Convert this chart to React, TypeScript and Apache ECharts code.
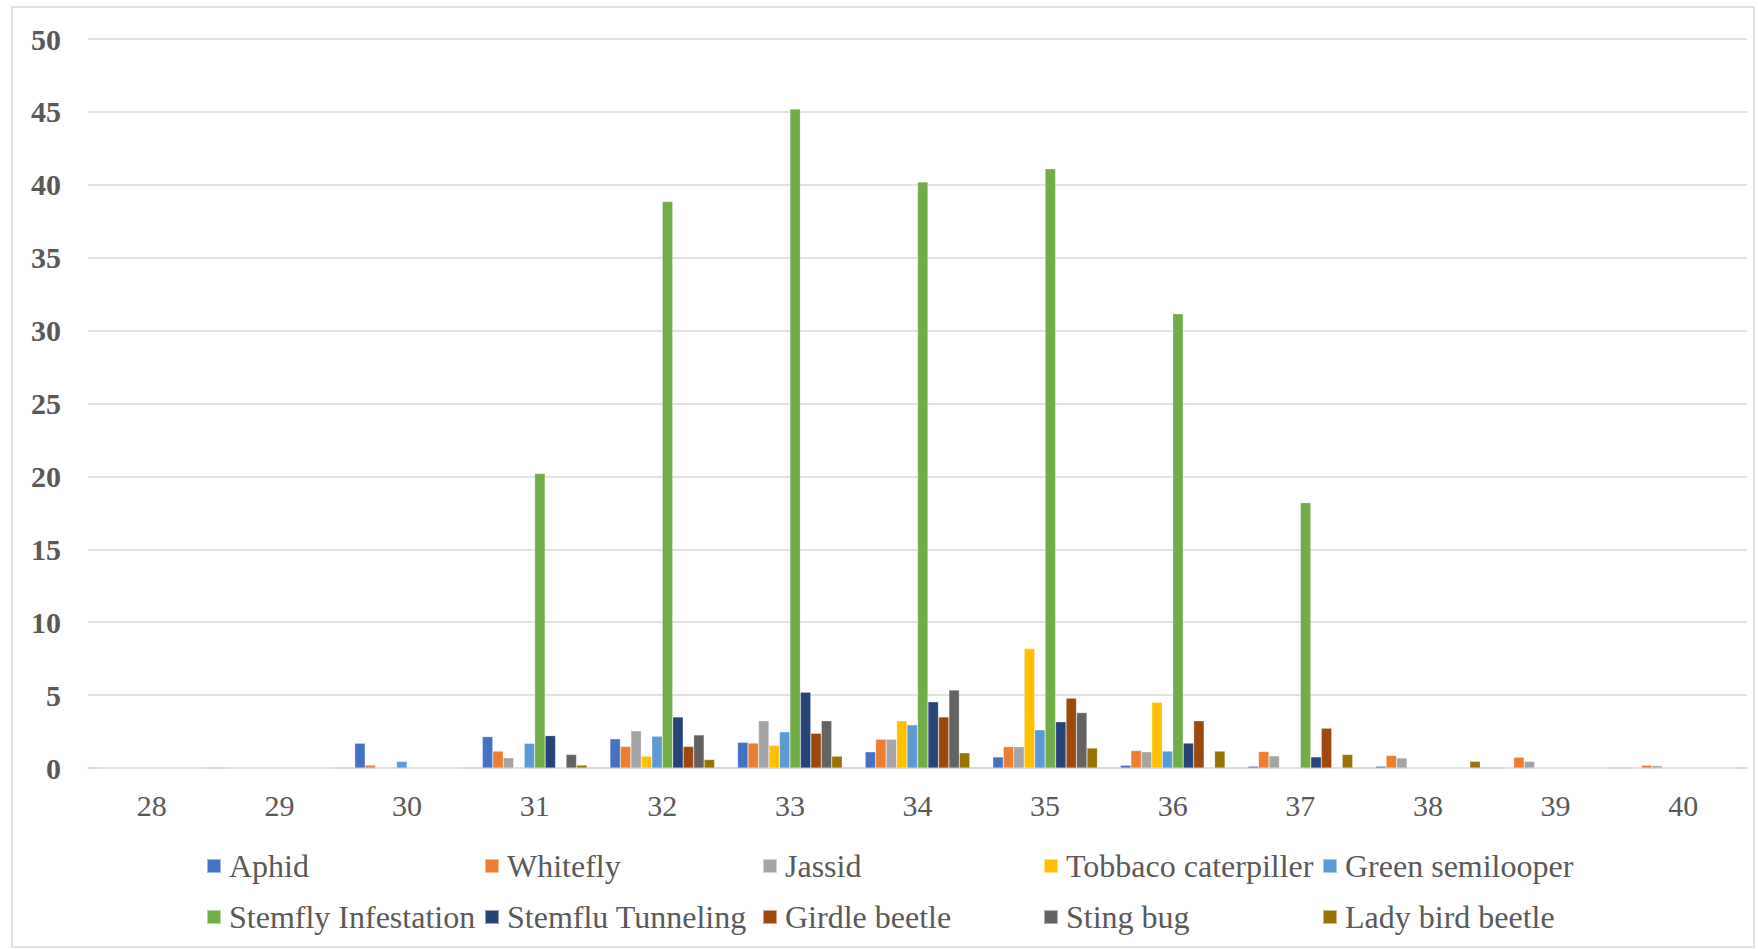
import React, { useEffect, useRef } from "react";
import * as echarts from "echarts";

const categories = ["28", "29", "30", "31", "32", "33", "34", "35", "36", "37", "38", "39", "40"];

const aphid = [0, 0, 1.7, 2.15, 2.0, 1.76, 1.11, 0.76, 0.19, 0.12, 0.12, 0, 0];
const whitefly = [0, 0, 0.2, 1.16, 1.48, 1.71, 1.97, 1.46, 1.2, 1.13, 0.86, 0.74, 0.19];
const jassid = [0, 0, 0, 0.7, 2.55, 3.24, 1.97, 1.46, 1.11, 0.83, 0.69, 0.46, 0.16];
const tobacco = [0, 0, 0, 0, 0.81, 1.55, 3.24, 8.19, 4.51, 0, 0, 0, 0];
const greenSemilooper = [0, 0, 0.45, 1.69, 2.18, 2.48, 2.96, 2.62, 1.16, 0, 0, 0, 0];
const stemflyInfestation = [0, 0, 0, 20.2, 38.85, 45.2, 40.2, 41.1, 31.15, 18.2, 0, 0, 0];
const stemfluTunneling = [0, 0, 0, 2.22, 3.5, 5.2, 4.54, 3.17, 1.71, 0.76, 0, 0, 0];
const girdleBeetle = [0, 0, 0, 0, 1.48, 2.38, 3.5, 4.79, 3.24, 2.73, 0, 0, 0];
const stingBug = [0, 0, 0, 0.93, 2.27, 3.24, 5.35, 3.8, 0, 0, 0, 0, 0];
const ladyBirdBeetle = [0, 0, 0, 0.2, 0.58, 0.81, 1.04, 1.37, 1.16, 0.93, 0.46, 0, 0];

const seriesNames = [
  "Aphid",
  "Whitefly",
  "Jassid",
  "Tobbaco caterpiller",
  "Green semilooper",
  "Stemfly Infestation",
  "Stemflu Tunneling",
  "Girdle beetle",
  "Sting bug",
  "Lady bird beetle",
];
const seriesData = [
  aphid,
  whitefly,
  jassid,
  tobacco,
  greenSemilooper,
  stemflyInfestation,
  stemfluTunneling,
  girdleBeetle,
  stingBug,
  ladyBirdBeetle,
];
const colors = [
  "#4472C4",
  "#ED7D31",
  "#A5A5A5",
  "#FFC000",
  "#5B9BD5",
  "#70AD47",
  "#264478",
  "#9E480E",
  "#636363",
  "#997300",
];
const yTicks = [0, 5, 10, 15, 20, 25, 30, 35, 40, 45, 50];

const legendCols = [206, 484, 762, 1043, 1322];
const legendRows = [850, 901];

export default function App() {
  const ref = useRef<HTMLDivElement>(null);
  useEffect(() => {
    if (!ref.current) return;
    const chart = echarts.init(ref.current, undefined, { renderer: "svg" });
    const font = "'Liberation Serif', 'Times New Roman', serif";
    const legends = seriesNames.map((name, i) => ({
      data: [name],
      left: legendCols[i % 5],
      top: legendRows[Math.floor(i / 5)],
      orient: "horizontal",
      icon: "rect",
      itemWidth: 14,
      itemHeight: 14,
      padding: 0,
      textStyle: {
        fontFamily: font,
        fontSize: 32,
        color: "#595959",
        padding: [0, 0, 0, 3],
      },
    }));
    chart.setOption({
      animation: false,
      color: colors,
      textStyle: { fontFamily: font },
      graphic: [
        {
          type: "rect",
          shape: { x: 12, y: 7, width: 1742, height: 940 },
          style: { fill: "none", stroke: "#d9d9d9", lineWidth: 1.5 },
          silent: true,
        },
      ],
      legend: legends,
      grid: { left: 88, right: 11, top: 39, bottom: 181, containLabel: false },
      xAxis: {
        type: "category",
        data: categories,
        axisLine: { lineStyle: { color: "#d9d9d9", width: 1.5 } },
        axisTick: { show: false },
        axisLabel: {
          fontFamily: font,
          fontSize: 30,
          color: "#595959",
          margin: 22,
        },
      },
      yAxis: {
        type: "value",
        min: 0,
        max: 50,
        interval: 5,
        axisLine: { show: false },
        axisTick: { show: false },
        splitLine: { lineStyle: { color: "#d9d9d9", width: 1.5 } },
        axisLabel: {
          fontFamily: font,
          fontSize: 30,
          fontWeight: "bold",
          color: "#595959",
          margin: 27,
          formatter: (v: number) => (yTicks.includes(v) ? String(v) : ""),
        },
      },
      series: seriesNames.map((name, i) => ({
        name,
        type: "bar",
        data: seriesData[i],
        barGap: "0%",
        barCategoryGap: "18%",
        itemStyle: { color: colors[i], borderColor: "rgba(255,255,255,0.5)", borderWidth: 0.5 },
      })),
    });
    return () => chart.dispose();
  }, []);
  return (
    <div
      ref={ref}
      style={{ position: "absolute", left: 0, top: 0, width: 1758, height: 949, background: "#fff" }}
    />
  );
}
